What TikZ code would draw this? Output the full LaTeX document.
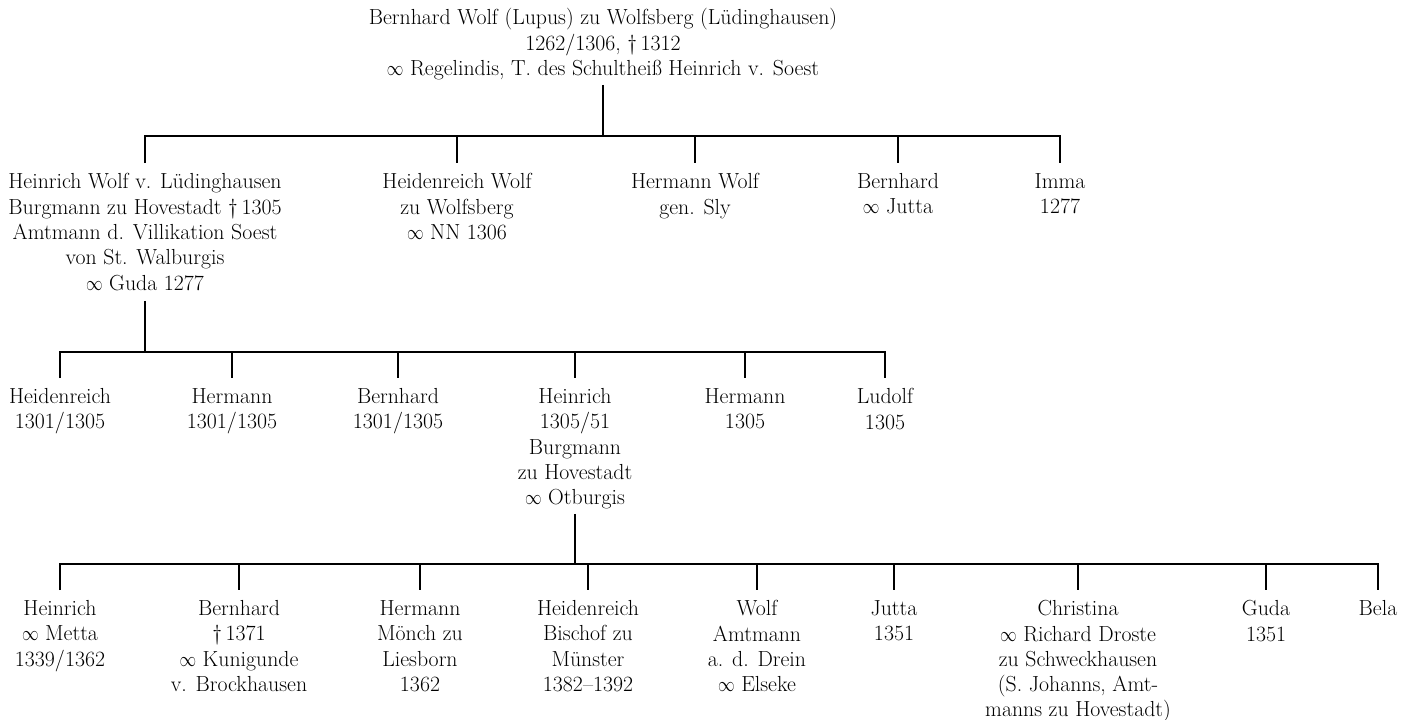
\documentclass[tikz,border=0pt]{standalone}
\usepackage{amsmath}
\newcommand{\verm}{\scalebox{0.8}[1]{$\infty$}}

\begin{document}
\begin{tikzpicture}[x=1pt, y=-1pt, line width=1.1pt,
  person/.style={align=center, anchor=north, inner sep=0pt, font=\fontsize{21.8}{25.3}\selectfont}]
  \useasboundingbox (0,0) rectangle (1409,720);
  \coordinate (L0) at (0,136);
  \coordinate (L1) at (0,352);
  \coordinate (L2) at (0,564);

  \node[person] (P) at (603,8) {Bernhard Wolf (Lupus) zu Wolfsberg (Lüdinghausen)\\1262/1306, \textdagger\,1312\\\verm{} Regelindis, T. des Schultheiß Heinrich v. Soest};

  \node[person] (H) at (145,173) {Heinrich Wolf v. Lüdinghausen\\Burgmann zu Hovestadt \textdagger\,1305\\Amtmann d. Villikation Soest\\von St. Walburgis\\\verm{} Guda 1277};
  \node[person] (HW) at (457,173) {Heidenreich Wolf\\zu Wolfsberg\\\verm{} NN 1306};
  \node[person] (HM) at (695,173) {Hermann Wolf\\gen. Sly};
  \node[person] (BE) at (898,173) {Bernhard\\\verm{} Jutta};
  \node[person] (IM) at (1060,173) {Imma\\1277};

  \node[person] (H1) at (60,388) {Heidenreich\\1301/1305};
  \node[person] (H2) at (232,388) {Hermann\\1301/1305};
  \node[person] (H3) at (398,388) {Bernhard\\1301/1305};
  \node[person] (H4) at (575,388) {Heinrich\\1305/51\\Burgmann\\zu Hovestadt\\\verm{} Otburgis};
  \node[person] (H5) at (745,388) {Hermann\\1305};
  \node[person] (H6) at (885,388) {Ludolf\\1305};

  \node[person] (K1) at (60,600) {Heinrich\\\verm{} Metta\\1339/1362};
  \node[person] (K2) at (239,600) {Bernhard\\\textdagger\,1371\\\verm{} Kunigunde\\v. Brockhausen};
  \node[person] (K3) at (420,600) {Hermann\\Mönch zu\\Liesborn\\1362};
  \node[person] (K4) at (588,600) {Heidenreich\\Bischof zu\\Münster\\1382\textendash1392};
  \node[person] (K5) at (757,600) {Wolf\\Amtmann\\a. d. Drein\\\verm{} Elseke};
  \node[person] (K6) at (894,600) {Jutta\\1351};
  \node[person] (K7) at (1078,600) {Christina\\\verm{} Richard Droste\\zu Schweckhausen\\(S. Johanns, Amt-\\manns zu Hovestadt)};
  \node[person] (K8) at (1266,600) {Guda\\1351};
  \node[person] (K9) at (1378,600) {Bela};

  \draw ([yshift=-4.5pt]P.south) -- (P.south |- L0);
  \draw ([yshift=10pt]H.north) -- (H.north |- L0) -- (IM.north |- L0) -- ([yshift=10pt]IM.north);
  \foreach \c in {HW,HM,BE}
    \draw (\c.north |- L0) -- ([yshift=10pt]\c.north);

  \draw ([yshift=-10pt]H.south) -- (H.south |- L1);
  \draw ([yshift=10pt]H1.north) -- (H1.north |- L1) -- (H6.north |- L1) -- ([yshift=10pt]H6.north);
  \foreach \c in {H2,H3,H4,H5}
    \draw (\c.north |- L1) -- ([yshift=10pt]\c.north);

  \draw ([yshift=-4pt]H4.south) -- (H4.south |- L2);
  \draw ([yshift=10pt]K1.north) -- (K1.north |- L2) -- (K9.north |- L2) -- ([yshift=10pt]K9.north);
  \foreach \c in {K2,K3,K4,K5,K6,K7,K8}
    \draw (\c.north |- L2) -- ([yshift=10pt]\c.north);
\end{tikzpicture}
\end{document}
